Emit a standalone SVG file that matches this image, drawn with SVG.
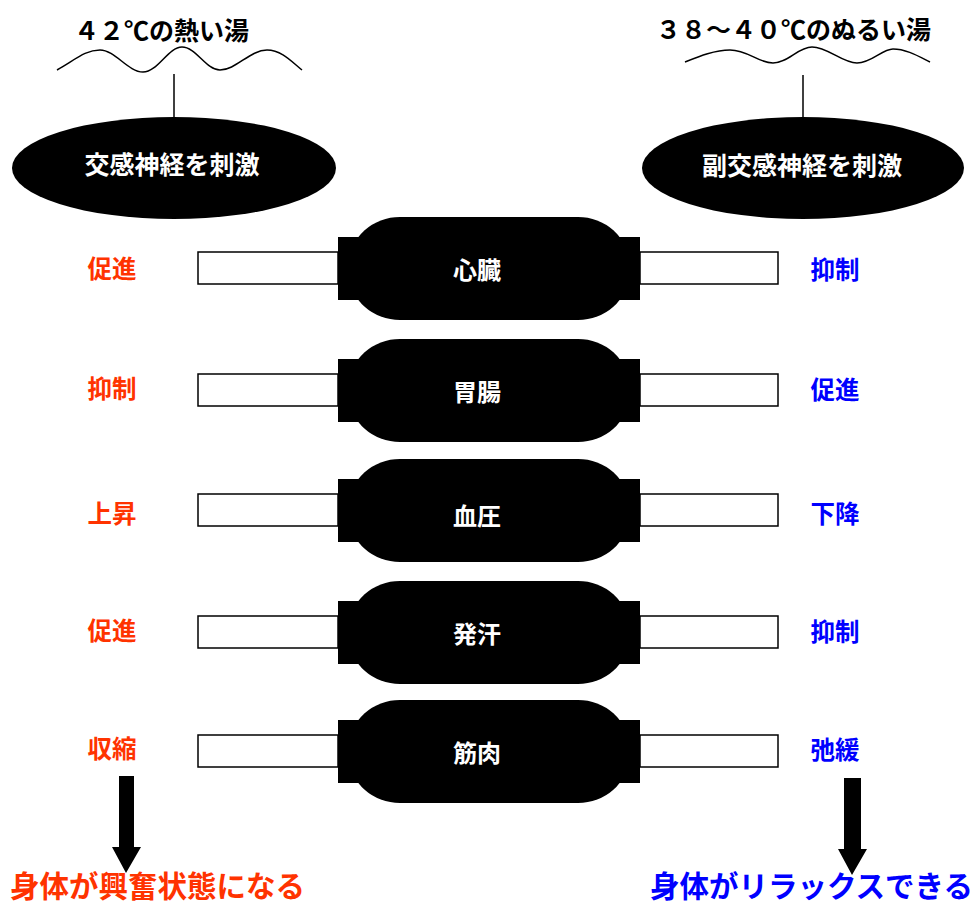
<svg xmlns="http://www.w3.org/2000/svg" width="975" height="905" viewBox="0 0 975 905">
<defs>
<style>
.t{font-family:"Noto Sans CJK JP","Liberation Sans",sans-serif;font-weight:bold;}
.hd{font-size:25px;fill:#000;}
.ew{font-size:25px;fill:#fff;text-anchor:middle;}
.nw{font-size:24px;fill:#fff;text-anchor:middle;}
.lr{font-size:24.5px;fill:#ff3300;text-anchor:middle;}
.lb{font-size:24.5px;fill:#0000ff;text-anchor:middle;}
.br{font-size:29.5px;fill:#ff3300;}
.bb{font-size:29.5px;fill:#0000ff;}
.wave{fill:none;stroke:#000;stroke-width:1.5;}
.ln{stroke:#000;stroke-width:1.5;fill:none;}
.bar{fill:#fff;stroke:#000;stroke-width:1.5;}
.blk{fill:#000;}
</style>
<g id="organ">
<rect class="bar" x="198" y="35" width="140" height="32"/>
<rect class="bar" x="640" y="35" width="138" height="32"/>
<rect class="blk" x="338" y="20" width="302" height="63"/>
<rect class="blk" x="350" y="0" width="278" height="103" rx="50" ry="45"/>
</g>
</defs>

<g id="hot-water">
<text class="t hd" x="74" y="40">４２℃の熱い湯</text>
<path class="wave" d="M57,70 C75,60 85,50 100,50 C115,50 128,72 143,72 C158,72 168,47 182,47 C196,47 206,70 220,70 C236,70 250,50 267,50 C282,50 292,62 302,70"/>
</g>
<g id="warm-water">
<text class="t hd" x="656" y="39">３８～４０℃のぬるい湯</text>
<path class="wave" d="M685,62 C700,56 715,50 730,50 C748,50 758,63 773,63 C788,63 798,47 812,47 C828,47 842,63 857,63 C872,63 882,49 893,49 C906,49 918,56 930,62"/>
</g>

<g id="sympathetic">
<ellipse class="blk" cx="174" cy="168" rx="162" ry="51"/>
<text class="t ew" x="172" y="174">交感神経を刺激</text>
</g>
<g id="parasympathetic">
<ellipse class="blk" cx="803" cy="168" rx="161" ry="51"/>
<text class="t ew" x="802" y="175">副交感神経を刺激</text>
</g>

<g id="row-heart">
<use href="#organ" y="217"/>
<text class="t nw" x="477" y="279">心臓</text>
<text class="t lr" x="112" y="278">促進</text>
<text class="t lb" x="835" y="279">抑制</text>
</g>
<g id="row-stomach">
<use href="#organ" y="339"/>
<text class="t nw" x="477" y="401">胃腸</text>
<text class="t lr" x="112" y="398">抑制</text>
<text class="t lb" x="835" y="399">促進</text>
</g>
<g id="row-bp">
<use href="#organ" y="459"/>
<text class="t nw" x="477" y="525">血圧</text>
<text class="t lr" x="112" y="523">上昇</text>
<text class="t lb" x="835" y="523">下降</text>
</g>
<g id="row-sweat">
<use href="#organ" y="581"/>
<text class="t nw" x="477" y="643">発汗</text>
<text class="t lr" x="112" y="640">促進</text>
<text class="t lb" x="835" y="641">抑制</text>
</g>
<g id="row-muscle">
<use href="#organ" y="700"/>
<text class="t nw" x="477" y="762">筋肉</text>
<text class="t lr" x="112" y="758">収縮</text>
<text class="t lb" x="835" y="759">弛緩</text>
</g>

<g id="connectors">
<line class="ln" x1="174" y1="74" x2="174" y2="117"/>
<line class="ln" x1="803" y1="75" x2="803" y2="117"/>
<path class="blk" d="M119,776 H134 V847 H141 L126,873 L112,847 H119 Z"/>
<path class="blk" d="M844,778 H861 V849 H867 L852,875 L838,849 H844 Z"/>
</g>

<g id="result-excited">
<text class="t br" x="10" y="897">身体が興奮状態になる</text>
</g>
<g id="result-relax">
<text class="t bb" x="650" y="897">身体がリラックスできる</text>
</g>
</svg>
